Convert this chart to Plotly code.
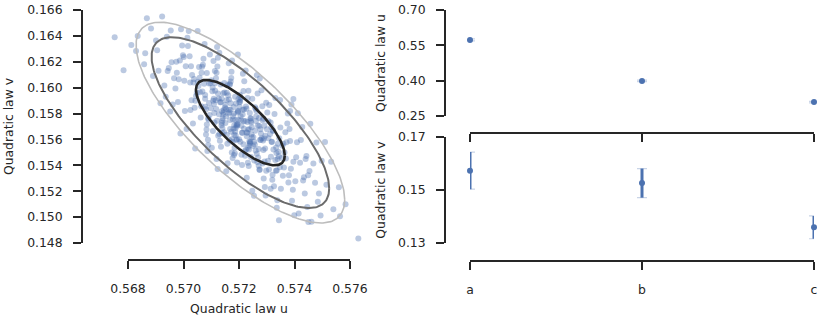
import numpy as np
import plotly.graph_objects as go

W, H = 831, 325

# samples of (u, v)
U_SAMPLES = [
    0.57153, 0.57183, 0.57170, 0.57192, 0.57161, 0.57177, 0.57196, 0.57166, 0.57187, 0.57157,
    0.57180, 0.57173, 0.57190, 0.57151, 0.57185, 0.57164, 0.57194, 0.57175, 0.57168, 0.57198,
    0.57159, 0.57181, 0.57155, 0.57188, 0.57172, 0.57184, 0.57162, 0.57193, 0.57167, 0.57178,
    0.57154, 0.57189, 0.57174, 0.57195, 0.57163, 0.57182, 0.57156, 0.57186, 0.57169, 0.57191,
    0.57230, 0.57223, 0.57240, 0.57201, 0.57235, 0.57214, 0.57244, 0.57225, 0.57218, 0.57248,
    0.57209, 0.57231, 0.57205, 0.57238, 0.57222, 0.57234, 0.57212, 0.57243, 0.57217, 0.57228,
    0.57204, 0.57239, 0.57224, 0.57245, 0.57213, 0.57232, 0.57206, 0.57236, 0.57219, 0.57241,
    0.57203, 0.57233, 0.57220, 0.57242, 0.57211, 0.57227, 0.57246, 0.57216, 0.57237, 0.57207,
    0.57105, 0.57131, 0.57116, 0.57140, 0.57122, 0.57146, 0.57110, 0.57134, 0.57102, 0.57127,
    0.57143, 0.57113, 0.57137, 0.57119, 0.57148, 0.57107, 0.57129, 0.57124, 0.57141, 0.57104,
    0.57135, 0.57117, 0.57144, 0.57111, 0.57132, 0.57121, 0.57138, 0.57101, 0.57125, 0.57145,
    0.57114, 0.57128, 0.57108, 0.57139, 0.57123,
    0.57273, 0.57289, 0.57258, 0.57278, 0.57264, 0.57295, 0.57275, 0.57251, 0.57288, 0.57271,
    0.57282, 0.57261, 0.57294, 0.57267, 0.57285, 0.57254, 0.57291, 0.57274, 0.57279, 0.57257,
    0.57298, 0.57269, 0.57287, 0.57263, 0.57293, 0.57277, 0.57252, 0.57284, 0.57260, 0.57296,
    0.57272, 0.57290, 0.57266, 0.57281, 0.57255,
    0.57079, 0.57056, 0.57088, 0.57068, 0.57097, 0.57062, 0.57076, 0.57092, 0.57052, 0.57083,
    0.57072, 0.57094, 0.57059, 0.57086, 0.57065, 0.57099, 0.57070, 0.57090, 0.57054, 0.57081,
    0.57074, 0.57095, 0.57064, 0.57084, 0.57058, 0.57078, 0.57089, 0.57067, 0.57051,
    0.57317, 0.57339, 0.57328, 0.57308, 0.57334, 0.57314, 0.57345, 0.57324, 0.57331, 0.57304,
    0.57340, 0.57320, 0.57349, 0.57315, 0.57336, 0.57309, 0.57344, 0.57322, 0.57333, 0.57302,
    0.57342, 0.57326, 0.57312, 0.57347, 0.57318, 0.57338, 0.57306, 0.57321, 0.57335,
    0.57036, 0.57005, 0.57027, 0.57043, 0.57016, 0.57048, 0.57011, 0.57031, 0.57022, 0.57040,
    0.57003, 0.57034, 0.57019, 0.57045, 0.57008, 0.57025, 0.57038, 0.57014, 0.57029, 0.57001,
    0.57042, 0.57024,
    0.57362, 0.57382, 0.57353, 0.57391, 0.57371, 0.57396, 0.57358, 0.57376, 0.57387, 0.57367,
    0.57399, 0.57356, 0.57380, 0.57374, 0.57394, 0.57364, 0.57384, 0.57351, 0.57389, 0.57369,
    0.57378, 0.57360,
    0.56957, 0.56980, 0.56995, 0.56966, 0.56987, 0.56952, 0.56976, 0.56991, 0.56971, 0.56998,
    0.56961, 0.56983, 0.56974, 0.56954, 0.56989,
    0.57434, 0.57409, 0.57446, 0.57420, 0.57428, 0.57403, 0.57440, 0.57415, 0.57449, 0.57423,
    0.57437, 0.57406, 0.57431, 0.57412, 0.57443,
    0.56931, 0.56905, 0.56940, 0.56917, 0.56947, 0.56923, 0.56910, 0.56936, 0.56901, 0.56943,
    0.57468, 0.57494, 0.57454, 0.57479, 0.57488, 0.57461, 0.57498, 0.57474, 0.57484, 0.57457,
    0.56862, 0.56883, 0.56868, 0.56890, 0.56858, 0.57532, 0.57510, 0.57540, 0.57515, 0.56829,
    0.56835, 0.56812, 0.57564, 0.57584, 0.57560, 0.56752, 0.56784, 0.57630, 0.57344, 0.57450,
    0.57196, 0.57129, 0.57396, 0.57264, 0.57348, 0.57384,
    # dense core
    0.57081, 0.57092, 0.57078, 0.57089, 0.57084,
    0.57109, 0.57121, 0.57113, 0.57118, 0.57106, 0.57124, 0.57111, 0.57119,
    0.57138, 0.57151, 0.57143, 0.57156, 0.57135, 0.57147, 0.57153, 0.57140, 0.57149, 0.57137, 0.57158,
    0.57168, 0.57181, 0.57172, 0.57186, 0.57165, 0.57177, 0.57183, 0.57170, 0.57179, 0.57167, 0.57188,
    0.57174, 0.57163,
    0.57198, 0.57211, 0.57202, 0.57216, 0.57195, 0.57207, 0.57213, 0.57200, 0.57209, 0.57197, 0.57218,
    0.57204, 0.57193,
    0.57228, 0.57241, 0.57232, 0.57246, 0.57225, 0.57237, 0.57243, 0.57230, 0.57239, 0.57227, 0.57248,
    0.57258, 0.57271, 0.57262, 0.57276, 0.57255, 0.57268, 0.57274, 0.57260,
    0.57288, 0.57301, 0.57292, 0.57306, 0.57285, 0.57298,
    0.57318, 0.57331, 0.57322, 0.57336, 0.57314,
]
V_SAMPLES = [
    0.15835, 0.15637, 0.16048, 0.15703, 0.15942, 0.15457, 0.15816, 0.15594, 0.15751, 0.16019,
    0.15682, 0.16123, 0.15596, 0.15868, 0.15494, 0.15908, 0.15720, 0.16210, 0.15681, 0.15913,
    0.15416, 0.15800, 0.15902, 0.15689, 0.16075, 0.15536, 0.15801, 0.15601, 0.16023, 0.15755,
    0.15354, 0.15878, 0.15602, 0.15808, 0.16189, 0.15479, 0.15960, 0.15662, 0.15830, 0.15714,
    0.15652, 0.15743, 0.15576, 0.15888, 0.15394, 0.16108, 0.15730, 0.15520, 0.15831, 0.15203,
    0.15706, 0.15920, 0.15582, 0.15679, 0.15475, 0.15976, 0.15651, 0.15761, 0.15743, 0.15305,
    0.15904, 0.15568, 0.16132, 0.15638, 0.15829, 0.15419, 0.15780, 0.15522, 0.16050, 0.15584,
    0.15945, 0.15677, 0.15508, 0.15743, 0.15402, 0.15837, 0.15616, 0.15974, 0.15551, 0.15749,
    0.16001, 0.15589, 0.15903, 0.15745, 0.16164, 0.15655, 0.15873, 0.16025, 0.15536, 0.15916,
    0.15790, 0.16128, 0.15710, 0.15449, 0.15962, 0.15898, 0.15643, 0.16231, 0.15763, 0.15973,
    0.15543, 0.16072, 0.15809, 0.15731, 0.15888, 0.16315, 0.15728, 0.16057, 0.15629, 0.15827,
    0.15977, 0.15794, 0.16206, 0.15647, 0.15372,
    0.15704, 0.15299, 0.15848, 0.15596, 0.15489, 0.15629, 0.16071, 0.15549, 0.15760, 0.15397,
    0.15610, 0.15743, 0.15531, 0.15954, 0.15415, 0.15165, 0.15705, 0.15363, 0.15645, 0.15560,
    0.15884, 0.15461, 0.15592, 0.15820, 0.15232, 0.15678, 0.15618, 0.15857, 0.15515, 0.15167,
    0.15766, 0.15607, 0.15425, 0.15981, 0.15583,
    0.15853, 0.16159, 0.15598, 0.15970, 0.16034, 0.15770, 0.16337, 0.15882, 0.16046, 0.15676,
    0.16224, 0.15789, 0.15965, 0.15511, 0.16115, 0.15841, 0.16177, 0.15755, 0.16013, 0.15639,
    0.16031, 0.16257, 0.15857, 0.15715, 0.16076, 0.15914, 0.15557, 0.16162, 0.16437,
    0.15694, 0.15449, 0.15796, 0.15368, 0.15537, 0.15219, 0.15609, 0.15523, 0.15921, 0.15435,
    0.15567, 0.15289, 0.15693, 0.15467, 0.15073, 0.15867, 0.15471, 0.15666, 0.15358, 0.15808,
    0.15504, 0.15239, 0.15642, 0.15386, 0.15582, 0.15130, 0.15741, 0.15327, 0.15495,
    0.16040, 0.15820, 0.16165, 0.15899, 0.16322, 0.15961, 0.15680, 0.16098, 0.16243, 0.15844,
    0.16053, 0.15724, 0.16438, 0.15936, 0.16165, 0.15828, 0.16067, 0.16386, 0.15902, 0.16236,
    0.15531, 0.16040,
    0.15383, 0.15681, 0.15457, 0.15126, 0.15578, 0.15428, 0.15319, 0.15800, 0.15373, 0.15655,
    0.15014, 0.15552, 0.15324, 0.15724, 0.15212, 0.15500, 0.15588, 0.15220, 0.15870, 0.15452,
    0.15267, 0.15566,
    0.16197, 0.15890, 0.16326, 0.16072, 0.16209, 0.15815, 0.16116, 0.16452, 0.15994, 0.16251,
    0.15870, 0.16065, 0.16200, 0.16442, 0.15646,
    0.15308, 0.15578, 0.15078, 0.15420, 0.15697, 0.15277, 0.15448, 0.15028, 0.15324, 0.15595,
    0.15183, 0.15462, 0.15282, 0.15803, 0.15473,
    0.16017, 0.16289, 0.16393, 0.15880, 0.16152, 0.16550, 0.16131, 0.15929, 0.16365, 0.16128,
    0.15414, 0.15013, 0.15357, 0.15577, 0.15182, 0.14965, 0.15436, 0.15265, 0.15119, 0.15722,
    0.16265, 0.16458, 0.16536, 0.16090, 0.16180, 0.15427, 0.15580, 0.15060, 0.15250, 0.16283,
    0.16400, 0.16330, 0.15007, 0.15100, 0.15230, 0.16389, 0.16134, 0.14834, 0.14976, 0.14963,
    0.16257, 0.16270, 0.15912, 0.16097, 0.15904, 0.15819,
    # dense core
    0.15833, 0.16033, 0.15943, 0.15763, 0.16113,
    0.15915, 0.15745, 0.16035, 0.15835, 0.15665, 0.15955, 0.15805, 0.16115,
    0.15817, 0.15727, 0.15957, 0.15637, 0.15887, 0.16037, 0.15777, 0.15687, 0.15847, 0.15917, 0.15567,
    0.15750, 0.15850, 0.15660, 0.15930, 0.15810, 0.15580, 0.15710, 0.15880, 0.15780, 0.16030, 0.15630,
    0.15500, 0.15830,
    0.15752, 0.15652, 0.15852, 0.15562, 0.15712, 0.15922, 0.15792, 0.15602, 0.15482, 0.15822, 0.15682,
    0.15892, 0.15422,
    0.15624, 0.15764, 0.15534, 0.15694, 0.15854, 0.15584, 0.15464, 0.15734, 0.15804, 0.15654, 0.15914,
    0.15667, 0.15527, 0.15777, 0.15597, 0.15437, 0.15707, 0.15367, 0.15837,
    0.15519, 0.15679, 0.15429, 0.15609, 0.15749, 0.15359,
    0.15581, 0.15441, 0.15671, 0.15361, 0.15731,
]

# covariance ellipse
CENTER_U, CENTER_V = 0.57205, 0.1573
SIGMA_U, SIGMA_V, RHO = 0.0016, 0.0033, -0.77
LEVELS = [2.35, 2.0, 1.0]

CATEGORIES = ["a", "b", "c"]
U_MEANS = [0.573, 0.399, 0.309]
U_ERRS = [0.004, 0.003, 0.003]
V_MEANS = [0.1573, 0.1526, 0.1359]
V_ERRS = [0.0070, 0.0055, 0.0043]

U_TICKS = [0.568, 0.570, 0.572, 0.574, 0.576]
V_TICKS = [0.148, 0.150, 0.152, 0.154, 0.156, 0.158, 0.160, 0.162, 0.164, 0.166]
U_MEAN_TICKS = [0.25, 0.40, 0.55, 0.70]
V_MEAN_TICKS = [0.13, 0.15, 0.17]

BLUE = "#4c72b0"
INK = "#262626"


def px(x):
    return x / W


def py(y):
    return 1 - y / H


def stretch(lo, hi, p_lo, p_hi, q_lo, q_hi):
    s = (hi - lo) / (p_hi - p_lo)
    return [lo + (q_lo - p_lo) * s, lo + (q_hi - p_lo) * s]


cov = np.array([[SIGMA_U**2, RHO * SIGMA_U * SIGMA_V],
                [RHO * SIGMA_U * SIGMA_V, SIGMA_V**2]])
L = np.linalg.cholesky(cov)
t = np.linspace(0, 2 * np.pi, 240)
circle = np.vstack([np.cos(t), np.sin(t)])

fig = go.Figure()
# empty trace carrying the trimmed spines of the left panel
fig.add_trace(go.Scatter(x=[], y=[], xaxis="x2", yaxis="y2", showlegend=False))
fig.add_trace(go.Scatter(x=U_SAMPLES, y=V_SAMPLES, mode="markers",
                         marker=dict(size=6, color=BLUE, opacity=0.38, line=dict(width=0)),
                         xaxis="x", yaxis="y", showlegend=False))
for k, col, w in zip(LEVELS, ["#bdbdbd", "#6b6b6b", INK], [1.6, 2.0, 2.6]):
    e = L @ circle * k
    fig.add_trace(go.Scatter(x=CENTER_U + e[0], y=CENTER_V + e[1], mode="lines",
                             line=dict(color=col, width=w), xaxis="x", yaxis="y",
                             showlegend=False, hoverinfo="skip"))

for means, errs, xa, ya in [(U_MEANS, U_ERRS, "x3", "y3"), (V_MEANS, V_ERRS, "x4", "y4")]:
    fig.add_trace(go.Scatter(x=CATEGORIES, y=means, mode="markers", cliponaxis=False,
                             marker=dict(size=1, color="rgba(0,0,0,0)"),
                             error_y=dict(type="data", array=errs, color="rgba(76,114,176,0.3)",
                                          thickness=1.2, width=5),
                             xaxis=xa, yaxis=ya, showlegend=False))
    fig.add_trace(go.Scatter(x=CATEGORIES, y=means, mode="markers", cliponaxis=False,
                             marker=dict(size=6, color=BLUE),
                             error_y=dict(type="data", array=errs, color=BLUE,
                                          thickness=3, width=0),
                             xaxis=xa, yaxis=ya, showlegend=False))

axis_style = dict(showgrid=False, zeroline=False, showline=True, linecolor=INK, linewidth=1.8,
                  ticks="outside", ticklen=8, tickwidth=1.6, tickcolor=INK, automargin=False,
                  ticklabeloverflow="allow", tickfont=dict(size=12.4, color=INK))
title_font = dict(size=12.4, color=INK)

fig.update_layout(
    width=W, height=H,
    margin=dict(l=0, r=0, t=0, b=0, autoexpand=False),
    paper_bgcolor="white", plot_bgcolor="rgba(0,0,0,0)",
    font=dict(family="DejaVu Sans", size=12.4, color=INK),
    xaxis=dict(domain=[px(84), px(372)], range=stretch(0.568, 0.576, 128, 350, 84, 372),
               visible=False, anchor="y", automargin=False),
    yaxis=dict(domain=[py(255), py(0)], range=stretch(0.166, 0.148, 10, 243, 255, 0),
               visible=False, anchor="x", automargin=False),
    xaxis2=dict(domain=[px(128), px(350)], range=[0.568, 0.576], anchor="free", position=py(260),
                tickvals=U_TICKS, tickformat=".3f", ticklabelstandoff=9,
                title=dict(text="Quadratic law u", standoff=9, font=title_font), **axis_style),
    yaxis2=dict(domain=[py(243), py(10)], range=[0.148, 0.166], anchor="free", position=px(82),
                tickvals=V_TICKS, tickformat=".3f", ticklabelstandoff=8,
                title=dict(text="Quadratic law v", standoff=10, font=title_font), **axis_style),
    xaxis3=dict(domain=[px(470), px(814)], type="category", range=[0, 2], anchor="free",
                position=py(133), showticklabels=False, **axis_style),
    yaxis3=dict(domain=[py(116), py(10)], range=[0.25, 0.70], anchor="free", position=px(445),
                tickvals=U_MEAN_TICKS, tickformat=".2f", ticklabelstandoff=8,
                title=dict(text="Quadratic law u", standoff=9, font=title_font), **axis_style),
    xaxis4=dict(domain=[px(470), px(814)], type="category", range=[0, 2], anchor="free",
                position=py(261), ticklabelstandoff=9, **axis_style),
    yaxis4=dict(domain=[py(243), py(137)], range=[0.13, 0.17], anchor="free", position=px(445),
                tickvals=V_MEAN_TICKS, tickformat=".2f", ticklabelstandoff=8,
                title=dict(text="Quadratic law v", standoff=9, font=title_font), **axis_style),
)

# drop the default page margin so the figure sits at the window origin
fig.write_html("out.html", config={"displayModeBar": False},
               post_script="document.body.style.margin = '0px';")
